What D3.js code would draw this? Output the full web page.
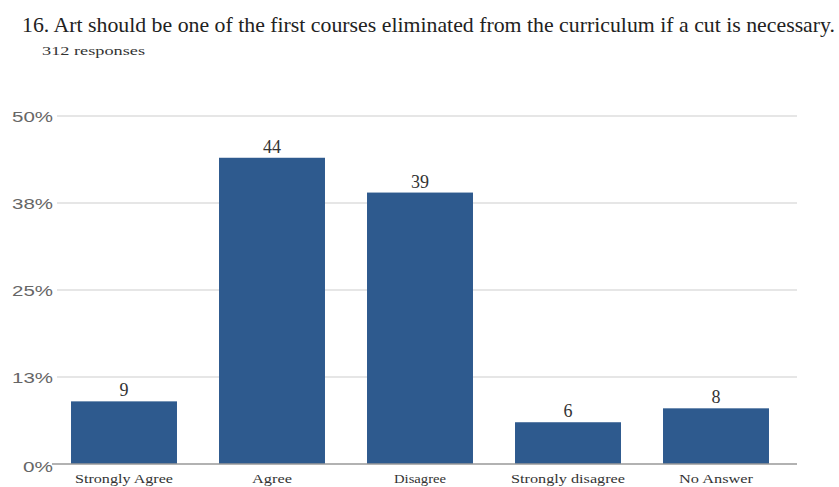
<!DOCTYPE html>
<html><head><meta charset="utf-8">
<script src="https://cdn.jsdelivr.net/npm/d3@7"></script>
<style>body{margin:0;background:#fff}svg{display:block}</style>
</head><body>
<script>
const title = "16. Art should be one of the first courses eliminated from the curriculum if a cut is necessary.";
const subtitle = "312 responses";
const categories = ["Strongly Agree", "Agree", "Disagree", "Strongly disagree", "No Answer"];
const values = [9, 44, 39, 6, 8];
const tickValues = [0, 12.5, 25, 37.5, 50];
const tickLabels = ["0%", "13%", "25%", "38%", "50%"];

const SERIF = "'Liberation Serif', 'Times New Roman', serif";
const SANS = "'Liberation Sans', Arial, sans-serif";
const W = 839, H = 487;
const svg = d3.select("body").append("svg").attr("width", W).attr("height", H);

const x = d3.scaleBand().domain(categories).range([50, 790]).paddingInner(0.284).paddingOuter(0.142);
const y = d3.scaleLinear().domain([0, 50]).range([464, 116]);

svg.append("text").attr("x", 22).attr("y", 32)
  .style("font-family", SERIF).style("font-size", "21px")
  .attr("fill", "#222").attr("textLength", 813).attr("lengthAdjust", "spacingAndGlyphs")
  .text(title);
svg.append("text").attr("x", 42).attr("y", 55)
  .style("font-family", SERIF).style("font-size", "13px")
  .attr("fill", "#333").attr("textLength", 103).attr("lengthAdjust", "spacingAndGlyphs")
  .text(subtitle);

// gridlines
svg.append("g").selectAll("line").data(tickValues.slice(1)).join("line")
  .attr("x1", 57).attr("x2", 797).attr("y1", d => y(d)).attr("y2", d => y(d))
  .attr("stroke", "#dedede").attr("stroke-width", 1.5);

// y labels
const ylab = svg.append("g");
tickValues.forEach((v, i) => {
  const lbl = tickLabels[i];
  ylab.append("text").attr("x", 53).attr("y", y(v) + (v === 0 ? 8 : 6))
    .attr("text-anchor", "end")
    .style("font-family", SANS).style("font-size", "15px")
    .attr("fill", "#666").attr("textLength", lbl.length === 2 ? 30 : 41).attr("lengthAdjust", "spacingAndGlyphs")
    .text(lbl);
});

// bars
svg.append("g").selectAll("rect").data(categories).join("rect")
  .attr("x", d => x(d)).attr("width", x.bandwidth())
  .attr("y", (d, i) => y(values[i])).attr("height", (d, i) => y(0) - y(values[i]))
  .attr("fill", "#2e5a8e");

// baseline
svg.append("line").attr("x1", 52).attr("x2", 797).attr("y1", y(0)).attr("y2", y(0))
  .attr("stroke", "#999").attr("stroke-width", 1.5);

// value labels
svg.append("g").selectAll("text").data(categories).join("text")
  .attr("x", d => x(d) + x.bandwidth() / 2).attr("y", (d, i) => y(values[i]) - 5)
  .attr("text-anchor", "middle")
  .style("font-family", SERIF).style("font-size", "18px")
  .attr("fill", "#333")
  .text((d, i) => values[i]);

// category labels
const catW = [98, 40, 52, 114, 74];
svg.append("g").selectAll("text").data(categories).join("text")
  .attr("x", d => x(d) + x.bandwidth() / 2).attr("y", 483)
  .attr("text-anchor", "middle")
  .style("font-family", SERIF).style("font-size", "13px")
  .attr("fill", "#333").attr("textLength", (d, i) => catW[i]).attr("lengthAdjust", "spacingAndGlyphs")
  .text(d => d);
</script>
</body></html>
